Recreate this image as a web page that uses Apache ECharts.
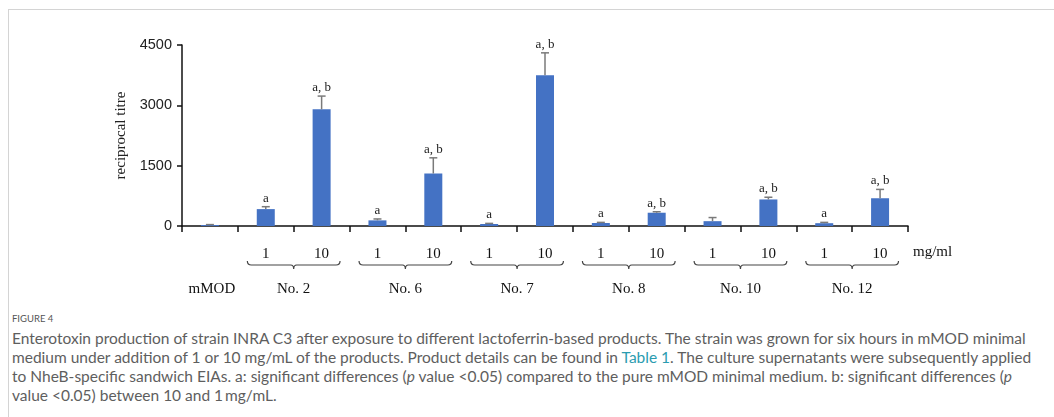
<!DOCTYPE html>
<html>
<head>
<meta charset="utf-8">
<script src="https://cdn.jsdelivr.net/npm/echarts@6/dist/echarts.min.js"></script>
<style>
  html, body { margin: 0; padding: 0; background: #fff; }
  #wrap { position: relative; width: 1054px; height: 417px; overflow: hidden; }
  #frame { position: absolute; left: 8px; top: 9px; right: -2px; bottom: -2px;
           border-top: 1px solid #d4d4d4; border-left: 1px solid #d4d4d4; }
  #chart { position: absolute; left: 0; top: 0; width: 1054px; height: 310px; }
  #caption { position: absolute; left: 12px; top: 312px; width: 1040px;
             font-family: Lato, "Open Sans", sans-serif; color: #5e5e5e; }
  #caption .fig { font-size: 9.5px; line-height: 14px; color: #555; }
  #caption .txt { font-size: 15.5px; line-height: 19px; margin-top: 3px; }
  #caption .txt div { white-space: nowrap; }
  #caption a { color: #2a9cb0; text-decoration: none; }
</style>
</head>
<body>
<div id="wrap">
  <div id="frame"></div>
  <div id="chart"></div>
  <div id="caption">
    <div class="fig">FIGURE 4</div>
    <div class="txt">
      <div>Enterotoxin production of strain INRA C3 after exposure to different lactoferrin-based products. The strain was grown for six hours in mMOD minimal</div>
      <div>medium under addition of 1 or 10 mg/mL of the products. Product details can be found in <a>Table 1</a>. The culture supernatants were subsequently applied</div>
      <div>to NheB-specific sandwich EIAs. a: significant differences (<i>p</i> value &lt;0.05) compared to the pure mMOD minimal medium. b: significant differences (<i>p</i></div>
      <div>value &lt;0.05) between 10 and 1&#8201;mg/mL.</div>
    </div>
  </div>
</div>
<script>
// Dose per bar (mg/ml); first bar is the plain mMOD medium
const doseLabels = ['', '1', '10', '1', '10', '1', '10', '1', '10', '1', '10', '1', '10'];
// Mean reciprocal titre per bar
const titres = [25, 420, 2900, 140, 1305, 50, 3750, 75, 330, 120, 660, 70, 690];
// Standard deviation per bar (upper error bar)
const errors = [10, 60, 330, 35, 390, 15, 555, 15, 25, 90, 55, 20, 220];
// Significance letters per bar
const sigLabels = ['', 'a', 'a, b', 'a', 'a, b', 'a', 'a, b', 'a', 'a, b', '', 'a, b', 'a', 'a, b'];
// Product groups spanning the bars
const groupNames = ['mMOD', 'No. 2', 'No. 6', 'No. 7', 'No. 8', 'No. 10', 'No. 12'];
const groupFirst = [0, 1, 3, 5, 7, 9, 11];
const groupLast = [0, 2, 4, 6, 8, 10, 12];
// Value axis ticks
const yMin = 0, yMax = 4500, yStep = 1500;

const serif = '"Liberation Serif", "Times New Roman", serif';
const categories = doseLabels.map((d, i) => 'c' + i);

const chart = echarts.init(document.getElementById('chart'), null, { renderer: 'canvas' });

const errorData = titres.map((v, i) => [i, v, errors[i]]);
const groupData = groupNames.map((n, g) => [groupFirst[g], groupLast[g], g]);

chart.setOption({
  animation: false,
  grid: { left: 182, right: 146, top: 45, bottom: 84 },
  xAxis: {
    type: 'category',
    data: categories,
    boundaryGap: true,
    axisLine: { lineStyle: { color: '#111', width: 1.5 } },
    axisTick: { show: true, length: 6, lineStyle: { color: '#111', width: 1.5 } },
    axisLabel: {
      margin: 21,
      fontFamily: serif, fontSize: 15, color: '#111',
      formatter: (val, idx) => doseLabels[idx]
    },
    name: 'mg/ml',
    nameLocation: 'end',
    nameGap: 5,
    nameTextStyle: { fontFamily: serif, fontSize: 15, color: '#111',
                     verticalAlign: 'top', align: 'left', padding: [19, 0, 0, 0] }
  },
  yAxis: {
    type: 'value',
    min: yMin, max: yMax, interval: yStep,
    splitLine: { show: false },
    axisLine: { show: true, lineStyle: { color: '#111', width: 1.5 } },
    axisTick: { show: true, length: 5, lineStyle: { color: '#111', width: 1.5 } },
    axisLabel: { margin: 10, fontFamily: '"Liberation Sans", Arial, sans-serif', fontSize: 14.5, color: '#222',
                 formatter: (v) => String(v) },
    name: 'reciprocal titre',
    nameLocation: 'middle',
    nameGap: 48,
    nameRotate: 90,
    nameTextStyle: { fontFamily: serif, fontSize: 15, color: '#222' }
  },
  series: [
    {
      type: 'bar',
      data: titres,
      barWidth: 18,
      itemStyle: { color: '#4472c4' },
      z: 2
    },
    {
      // upper error bars with significance letters
      type: 'custom',
      data: errorData,
      z: 3,
      silent: true,
      clip: false,
      renderItem: (params, api) => {
        const i = api.value(0), v = api.value(1), e = api.value(2);
        const base = api.coord([i, v]);
        const top = api.coord([i, v + e]);
        const children = [
          { type: 'line', shape: { x1: base[0], y1: base[1], x2: top[0], y2: top[1] },
            style: { stroke: '#7a7a7a', lineWidth: 1.5 } },
          { type: 'line', shape: { x1: top[0] - 4, y1: top[1], x2: top[0] + 4, y2: top[1] },
            style: { stroke: '#7a7a7a', lineWidth: 1.5 } }
        ];
        const lbl = sigLabels[params.dataIndex];
        if (lbl) {
          children.push({ type: 'text',
            style: { text: lbl, x: top[0], y: top[1] - 2, align: 'center', verticalAlign: 'bottom',
                     font: '13px ' + serif, fill: '#222' } });
        }
        return { type: 'group', children };
      }
    },
    {
      // group braces and product names beneath the dose labels
      type: 'custom',
      data: groupData,
      z: 3,
      silent: true,
      clip: false,
      renderItem: (params, api) => {
        const a = api.value(0), b = api.value(1), g = api.value(2);
        const band = api.size([1, 0])[0];
        const pa = api.coord([a, 0]);
        const pb = api.coord([b, 0]);
        const axisY = pa[1];
        const xm = (pa[0] + pb[0]) / 2;
        const children = [];
        if (b > a) {
          const x1 = pa[0] - band * 0.33, x2 = pb[0] + band * 0.33, y = axisY + 39;
          const d = `M${x1} ${y - 4} Q${x1} ${y} ${x1 + 4} ${y} L${xm - 3} ${y} Q${xm} ${y} ${xm} ${y + 4}` +
                    ` Q${xm} ${y} ${xm + 3} ${y} L${x2 - 4} ${y} Q${x2} ${y} ${x2} ${y - 4}`;
          children.push({ type: 'path', shape: { pathData: d },
            style: { stroke: '#444', lineWidth: 1.2, fill: null } });
        }
        children.push({ type: 'text',
          style: { text: groupNames[g], x: xm + (b > a ? 0 : 2), y: axisY + 63, align: 'center', verticalAlign: 'middle',
                   font: '15px ' + serif, fill: '#111' } });
        return { type: 'group', children };
      }
    }
  ]
});
</script>
</body>
</html>
